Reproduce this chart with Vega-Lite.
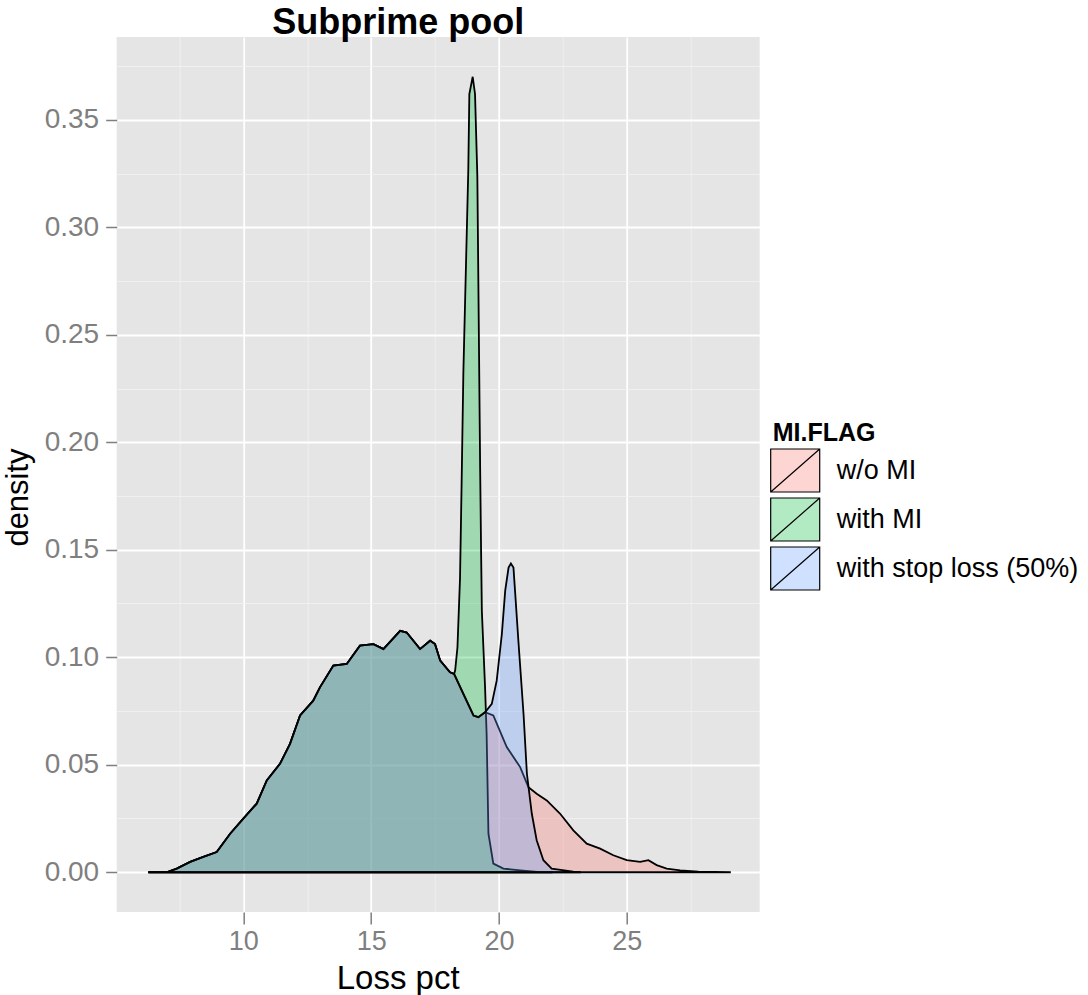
{
  "$schema": "https://vega.github.io/schema/vega-lite/v6.json",
  "autosize": "none",
  "width": 643,
  "height": 875,
  "padding": {"left": 116.7, "top": 37, "right": 328.3, "bottom": 83},
  "background": "white",
  "config": {"view": {"fill": "#E5E5E5", "stroke": null}, "font": "Liberation Sans"},
  "title": {"text": "Subprime pool", "anchor": "middle", "frame": "group", "dx": -40, "dy": 39, "fontSize": 36, "fontWeight": "bold", "color": "black", "baseline": "alphabetic", "offset": 6},
  "datasets": {
    "d": [
      {"flag": "w/o MI", "loss": 6.283, "density": 0},
      {"flag": "w/o MI", "loss": 6.999, "density": 0},
      {"flag": "w/o MI", "loss": 7.394, "density": 0.0017},
      {"flag": "w/o MI", "loss": 7.919, "density": 0.0048},
      {"flag": "w/o MI", "loss": 8.434, "density": 0.0071},
      {"flag": "w/o MI", "loss": 8.958, "density": 0.0094},
      {"flag": "w/o MI", "loss": 9.483, "density": 0.0179},
      {"flag": "w/o MI", "loss": 9.998, "density": 0.0249},
      {"flag": "w/o MI", "loss": 10.523, "density": 0.0319},
      {"flag": "w/o MI", "loss": 10.917, "density": 0.0427},
      {"flag": "w/o MI", "loss": 11.432, "density": 0.0504},
      {"flag": "w/o MI", "loss": 11.825, "density": 0.0597},
      {"flag": "w/o MI", "loss": 12.219, "density": 0.0729},
      {"flag": "w/o MI", "loss": 12.734, "density": 0.0798},
      {"flag": "w/o MI", "loss": 12.996, "density": 0.086},
      {"flag": "w/o MI", "loss": 13.521, "density": 0.0961},
      {"flag": "w/o MI", "loss": 14.046, "density": 0.0969},
      {"flag": "w/o MI", "loss": 14.561, "density": 0.1054},
      {"flag": "w/o MI", "loss": 15.085, "density": 0.1061},
      {"flag": "w/o MI", "loss": 15.348, "density": 0.1046},
      {"flag": "w/o MI", "loss": 15.479, "density": 0.1038},
      {"flag": "w/o MI", "loss": 16.135, "density": 0.1123},
      {"flag": "w/o MI", "loss": 16.388, "density": 0.1115},
      {"flag": "w/o MI", "loss": 16.913, "density": 0.1038},
      {"flag": "w/o MI", "loss": 17.306, "density": 0.1077},
      {"flag": "w/o MI", "loss": 17.498, "density": 0.1061},
      {"flag": "w/o MI", "loss": 17.7, "density": 0.0984},
      {"flag": "w/o MI", "loss": 18.083, "density": 0.093},
      {"flag": "w/o MI", "loss": 18.245, "density": 0.0922},
      {"flag": "w/o MI", "loss": 18.608, "density": 0.0829},
      {"flag": "w/o MI", "loss": 19.002, "density": 0.0729},
      {"flag": "w/o MI", "loss": 19.194, "density": 0.0721},
      {"flag": "w/o MI", "loss": 19.456, "density": 0.0744},
      {"flag": "w/o MI", "loss": 19.779, "density": 0.0729},
      {"flag": "w/o MI", "loss": 20.304, "density": 0.0582},
      {"flag": "w/o MI", "loss": 20.829, "density": 0.0489},
      {"flag": "w/o MI", "loss": 21.152, "density": 0.0396},
      {"flag": "w/o MI", "loss": 21.475, "density": 0.0365},
      {"flag": "w/o MI", "loss": 21.869, "density": 0.0334},
      {"flag": "w/o MI", "loss": 22.394, "density": 0.0272},
      {"flag": "w/o MI", "loss": 22.909, "density": 0.0195},
      {"flag": "w/o MI", "loss": 23.433, "density": 0.0133},
      {"flag": "w/o MI", "loss": 23.958, "density": 0.011},
      {"flag": "w/o MI", "loss": 24.473, "density": 0.0079},
      {"flag": "w/o MI", "loss": 24.998, "density": 0.0056},
      {"flag": "w/o MI", "loss": 25.523, "density": 0.0048},
      {"flag": "w/o MI", "loss": 25.846, "density": 0.0056},
      {"flag": "w/o MI", "loss": 26.169, "density": 0.0033},
      {"flag": "w/o MI", "loss": 26.562, "density": 0.0017},
      {"flag": "w/o MI", "loss": 27.087, "density": 0.0009},
      {"flag": "w/o MI", "loss": 27.8, "density": 0.0003},
      {"flag": "w/o MI", "loss": 29.07, "density": 0},

      {"flag": "with MI", "loss": 6.283, "density": 0},
      {"flag": "with MI", "loss": 6.999, "density": 0},
      {"flag": "with MI", "loss": 7.394, "density": 0.0017},
      {"flag": "with MI", "loss": 7.919, "density": 0.0048},
      {"flag": "with MI", "loss": 8.434, "density": 0.0071},
      {"flag": "with MI", "loss": 8.958, "density": 0.0094},
      {"flag": "with MI", "loss": 9.483, "density": 0.0179},
      {"flag": "with MI", "loss": 9.998, "density": 0.0249},
      {"flag": "with MI", "loss": 10.523, "density": 0.0319},
      {"flag": "with MI", "loss": 10.917, "density": 0.0427},
      {"flag": "with MI", "loss": 11.432, "density": 0.0504},
      {"flag": "with MI", "loss": 11.825, "density": 0.0597},
      {"flag": "with MI", "loss": 12.219, "density": 0.0729},
      {"flag": "with MI", "loss": 12.734, "density": 0.0798},
      {"flag": "with MI", "loss": 12.996, "density": 0.086},
      {"flag": "with MI", "loss": 13.521, "density": 0.0961},
      {"flag": "with MI", "loss": 14.046, "density": 0.0969},
      {"flag": "with MI", "loss": 14.561, "density": 0.1054},
      {"flag": "with MI", "loss": 15.085, "density": 0.1061},
      {"flag": "with MI", "loss": 15.348, "density": 0.1046},
      {"flag": "with MI", "loss": 15.479, "density": 0.1038},
      {"flag": "with MI", "loss": 16.135, "density": 0.1123},
      {"flag": "with MI", "loss": 16.388, "density": 0.1115},
      {"flag": "with MI", "loss": 16.913, "density": 0.1038},
      {"flag": "with MI", "loss": 17.306, "density": 0.1077},
      {"flag": "with MI", "loss": 17.498, "density": 0.1061},
      {"flag": "with MI", "loss": 17.7, "density": 0.0984},
      {"flag": "with MI", "loss": 18.083, "density": 0.093},
      {"flag": "with MI", "loss": 18.245, "density": 0.0922},
      {"flag": "with MI", "loss": 18.285, "density": 0.0938},
      {"flag": "with MI", "loss": 18.376, "density": 0.1046},
      {"flag": "with MI", "loss": 18.477, "density": 0.137},
      {"flag": "with MI", "loss": 18.538, "density": 0.1805},
      {"flag": "with MI", "loss": 18.608, "density": 0.233},
      {"flag": "with MI", "loss": 18.8, "density": 0.3267},
      {"flag": "with MI", "loss": 18.841, "density": 0.362},
      {"flag": "with MI", "loss": 18.972, "density": 0.37},
      {"flag": "with MI", "loss": 19.063, "density": 0.362},
      {"flag": "with MI", "loss": 19.154, "density": 0.3236},
      {"flag": "with MI", "loss": 19.265, "density": 0.1866},
      {"flag": "with MI", "loss": 19.3, "density": 0.15},
      {"flag": "with MI", "loss": 19.33, "density": 0.1216},
      {"flag": "with MI", "loss": 19.456, "density": 0.086},
      {"flag": "with MI", "loss": 19.517, "density": 0.0643},
      {"flag": "with MI", "loss": 19.588, "density": 0.0179},
      {"flag": "with MI", "loss": 19.779, "density": 0.004},
      {"flag": "with MI", "loss": 20.173, "density": 0.0017},
      {"flag": "with MI", "loss": 20.829, "density": 0.0009},
      {"flag": "with MI", "loss": 21.5, "density": 0.0002},
      {"flag": "with MI", "loss": 22.1, "density": 0},

      {"flag": "with stop loss (50%)", "loss": 6.283, "density": 0},
      {"flag": "with stop loss (50%)", "loss": 6.999, "density": 0},
      {"flag": "with stop loss (50%)", "loss": 7.394, "density": 0.0017},
      {"flag": "with stop loss (50%)", "loss": 7.919, "density": 0.0048},
      {"flag": "with stop loss (50%)", "loss": 8.434, "density": 0.0071},
      {"flag": "with stop loss (50%)", "loss": 8.958, "density": 0.0094},
      {"flag": "with stop loss (50%)", "loss": 9.483, "density": 0.0179},
      {"flag": "with stop loss (50%)", "loss": 9.998, "density": 0.0249},
      {"flag": "with stop loss (50%)", "loss": 10.523, "density": 0.0319},
      {"flag": "with stop loss (50%)", "loss": 10.917, "density": 0.0427},
      {"flag": "with stop loss (50%)", "loss": 11.432, "density": 0.0504},
      {"flag": "with stop loss (50%)", "loss": 11.825, "density": 0.0597},
      {"flag": "with stop loss (50%)", "loss": 12.219, "density": 0.0729},
      {"flag": "with stop loss (50%)", "loss": 12.734, "density": 0.0798},
      {"flag": "with stop loss (50%)", "loss": 12.996, "density": 0.086},
      {"flag": "with stop loss (50%)", "loss": 13.521, "density": 0.0961},
      {"flag": "with stop loss (50%)", "loss": 14.046, "density": 0.0969},
      {"flag": "with stop loss (50%)", "loss": 14.561, "density": 0.1054},
      {"flag": "with stop loss (50%)", "loss": 15.085, "density": 0.1061},
      {"flag": "with stop loss (50%)", "loss": 15.348, "density": 0.1046},
      {"flag": "with stop loss (50%)", "loss": 15.479, "density": 0.1038},
      {"flag": "with stop loss (50%)", "loss": 16.135, "density": 0.1123},
      {"flag": "with stop loss (50%)", "loss": 16.388, "density": 0.1115},
      {"flag": "with stop loss (50%)", "loss": 16.913, "density": 0.1038},
      {"flag": "with stop loss (50%)", "loss": 17.306, "density": 0.1077},
      {"flag": "with stop loss (50%)", "loss": 17.498, "density": 0.1061},
      {"flag": "with stop loss (50%)", "loss": 17.7, "density": 0.0984},
      {"flag": "with stop loss (50%)", "loss": 18.083, "density": 0.093},
      {"flag": "with stop loss (50%)", "loss": 18.245, "density": 0.0922},
      {"flag": "with stop loss (50%)", "loss": 18.608, "density": 0.0829},
      {"flag": "with stop loss (50%)", "loss": 19.002, "density": 0.0729},
      {"flag": "with stop loss (50%)", "loss": 19.194, "density": 0.0721},
      {"flag": "with stop loss (50%)", "loss": 19.456, "density": 0.0744},
      {"flag": "with stop loss (50%)", "loss": 19.719, "density": 0.0783},
      {"flag": "with stop loss (50%)", "loss": 19.911, "density": 0.0891},
      {"flag": "with stop loss (50%)", "loss": 20.113, "density": 0.1108},
      {"flag": "with stop loss (50%)", "loss": 20.244, "density": 0.131},
      {"flag": "with stop loss (50%)", "loss": 20.375, "density": 0.1417},
      {"flag": "with stop loss (50%)", "loss": 20.466, "density": 0.1436},
      {"flag": "with stop loss (50%)", "loss": 20.567, "density": 0.1417},
      {"flag": "with stop loss (50%)", "loss": 20.628, "density": 0.131},
      {"flag": "with stop loss (50%)", "loss": 20.759, "density": 0.1077},
      {"flag": "with stop loss (50%)", "loss": 20.961, "density": 0.0736},
      {"flag": "with stop loss (50%)", "loss": 21.093, "density": 0.0458},
      {"flag": "with stop loss (50%)", "loss": 21.285, "density": 0.0272},
      {"flag": "with stop loss (50%)", "loss": 21.475, "density": 0.0149},
      {"flag": "with stop loss (50%)", "loss": 21.738, "density": 0.0056},
      {"flag": "with stop loss (50%)", "loss": 22.061, "density": 0.0017},
      {"flag": "with stop loss (50%)", "loss": 22.9, "density": 0.0003},
      {"flag": "with stop loss (50%)", "loss": 23.2, "density": 0}
    ]
  },
  "data": {"name": "d"},
  "mark": {"type": "area", "stroke": "black", "strokeWidth": 1.8, "fillOpacity": 0.3, "interpolate": "linear"},
  "encoding": {
    "x": {
      "field": "loss", "type": "quantitative",
      "scale": {"domain": [5.045, 30.2], "nice": false, "zero": false},
      "axis": {
        "values": [7.5, 10, 12.5, 15, 17.5, 20, 22.5, 25, 27.5],
        "labelExpr": "datum.value % 5 === 0 ? datum.label : ''",
        "gridColor": {"condition": {"test": "datum.value % 5 === 0", "value": "#FFFFFF"}, "value": "#F2F2F2"},
        "gridWidth": {"condition": {"test": "datum.value % 5 === 0", "value": 1.8}, "value": 0.8},
        "tickColor": {"condition": {"test": "datum.value % 5 === 0", "value": "#7F7F7F"}, "value": "transparent"},
        "tickSize": 12, "tickWidth": 1.5, "domain": false,
        "labelFontSize": 27, "labelColor": "#7F7F7F", "labelPadding": 4, "labelFlush": false, "labelOverlap": false,
        "title": "Loss pct", "titleFontSize": 33, "titleFontWeight": "normal", "titleColor": "black",
        "titleX": 281, "titleY": 76, "titleBaseline": "alphabetic", "titleAnchor": "middle", "titleAlign": "center"
      }
    },
    "y": {
      "field": "density", "type": "quantitative",
      "scale": {"domain": [-0.0185, 0.3885], "nice": false, "zero": false},
      "axis": {
        "values": [0, 0.025, 0.05, 0.075, 0.1, 0.125, 0.15, 0.175, 0.2, 0.225, 0.25, 0.275, 0.3, 0.325, 0.35, 0.375],
        "format": ".2f",
        "labelExpr": "abs(datum.value * 20 - round(datum.value * 20)) < 0.001 ? datum.label : ''",
        "gridColor": {"condition": {"test": "abs(datum.value * 20 - round(datum.value * 20)) < 0.001", "value": "#FFFFFF"}, "value": "#F2F2F2"},
        "gridWidth": {"condition": {"test": "abs(datum.value * 20 - round(datum.value * 20)) < 0.001", "value": 1.8}, "value": 0.8},
        "tickColor": {"condition": {"test": "abs(datum.value * 20 - round(datum.value * 20)) < 0.001", "value": "#7F7F7F"}, "value": "transparent"},
        "tickSize": 11, "tickWidth": 1.5, "domain": false,
        "labelFontSize": 28, "labelColor": "#7F7F7F", "labelPadding": 7, "labelFlush": false, "labelOverlap": false,
        "title": "density", "titleFontSize": 31, "titleFontWeight": "normal", "titleColor": "black",
        "titleX": -89, "titleY": 460, "titleAngle": -90, "titleBaseline": "alphabetic", "titleAlign": "center"
      }
    },
    "y2": {"datum": 0},
    "color": {
      "field": "flag", "type": "nominal",
      "scale": {"domain": ["w/o MI", "with MI", "with stop loss (50%)"], "range": ["#F8766D", "#00BA38", "#619CFF"]},
      "legend": {
        "title": "MI.FLAG", "orient": "none", "legendX": 656, "legendY": 384,
        "titleFontSize": 25, "titleFontWeight": "bold", "titleColor": "black", "titlePadding": 2,
        "labelFontSize": 27, "labelColor": "black", "labelOffset": 19, "labelLimit": 0,
        "symbolType": "M-1.14,-1L1.14,-1L1.14,1L-1.14,1Z M-1.14,1L1.14,-1",
        "symbolSize": 1849, "symbolStrokeColor": "black", "symbolStrokeWidth": 1.2,
        "rowPadding": 0,
        "encode": {"symbols": {"update": {"fillOpacity": {"value": 0.3}, "stroke": {"value": "black"}, "strokeWidth": {"value": 1.2}}}}
      }
    }
  }
}
